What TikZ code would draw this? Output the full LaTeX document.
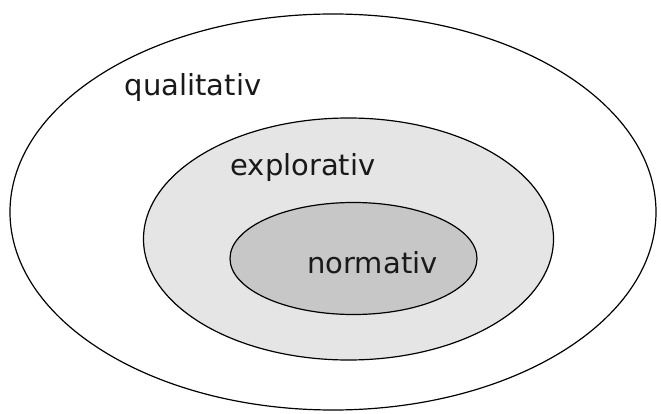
\documentclass[tikz,border=0pt]{standalone}
\usepackage{fontspec}
\setmainfont{DejaVu Sans}
\usetikzlibrary{shapes.geometric, positioning}

\begin{document}
\begin{tikzpicture}[x=1pt, y=-1pt]
    \tikzstyle{ring} = [ellipse, draw, line width=1.2pt, inner sep=0pt]
    \tikzstyle{ringtext} = [font=\fontsize{29}{34}\selectfont, inner sep=0pt, text=black!90]
    \useasboundingbox (0,0) rectangle (661,414);

    \node [ring, fill=white, minimum width=646pt, minimum height=396pt] (qual) at (333,212) {};
    \node [ring, fill=black!10, minimum width=410pt, minimum height=242pt] (expl) at (348.5,239) {};
    \node [ring, fill=black!22, minimum width=247pt, minimum height=112pt] (norm) at (353.5,258.5) {};

    \node [ringtext] (qualtext) at (193,88) {qualitativ};
    \node [ringtext] (expltext) at (303,168) {explorativ};
    \node [ringtext] (normtext) at (372.5,263) {normativ};
\end{tikzpicture}
\end{document}
